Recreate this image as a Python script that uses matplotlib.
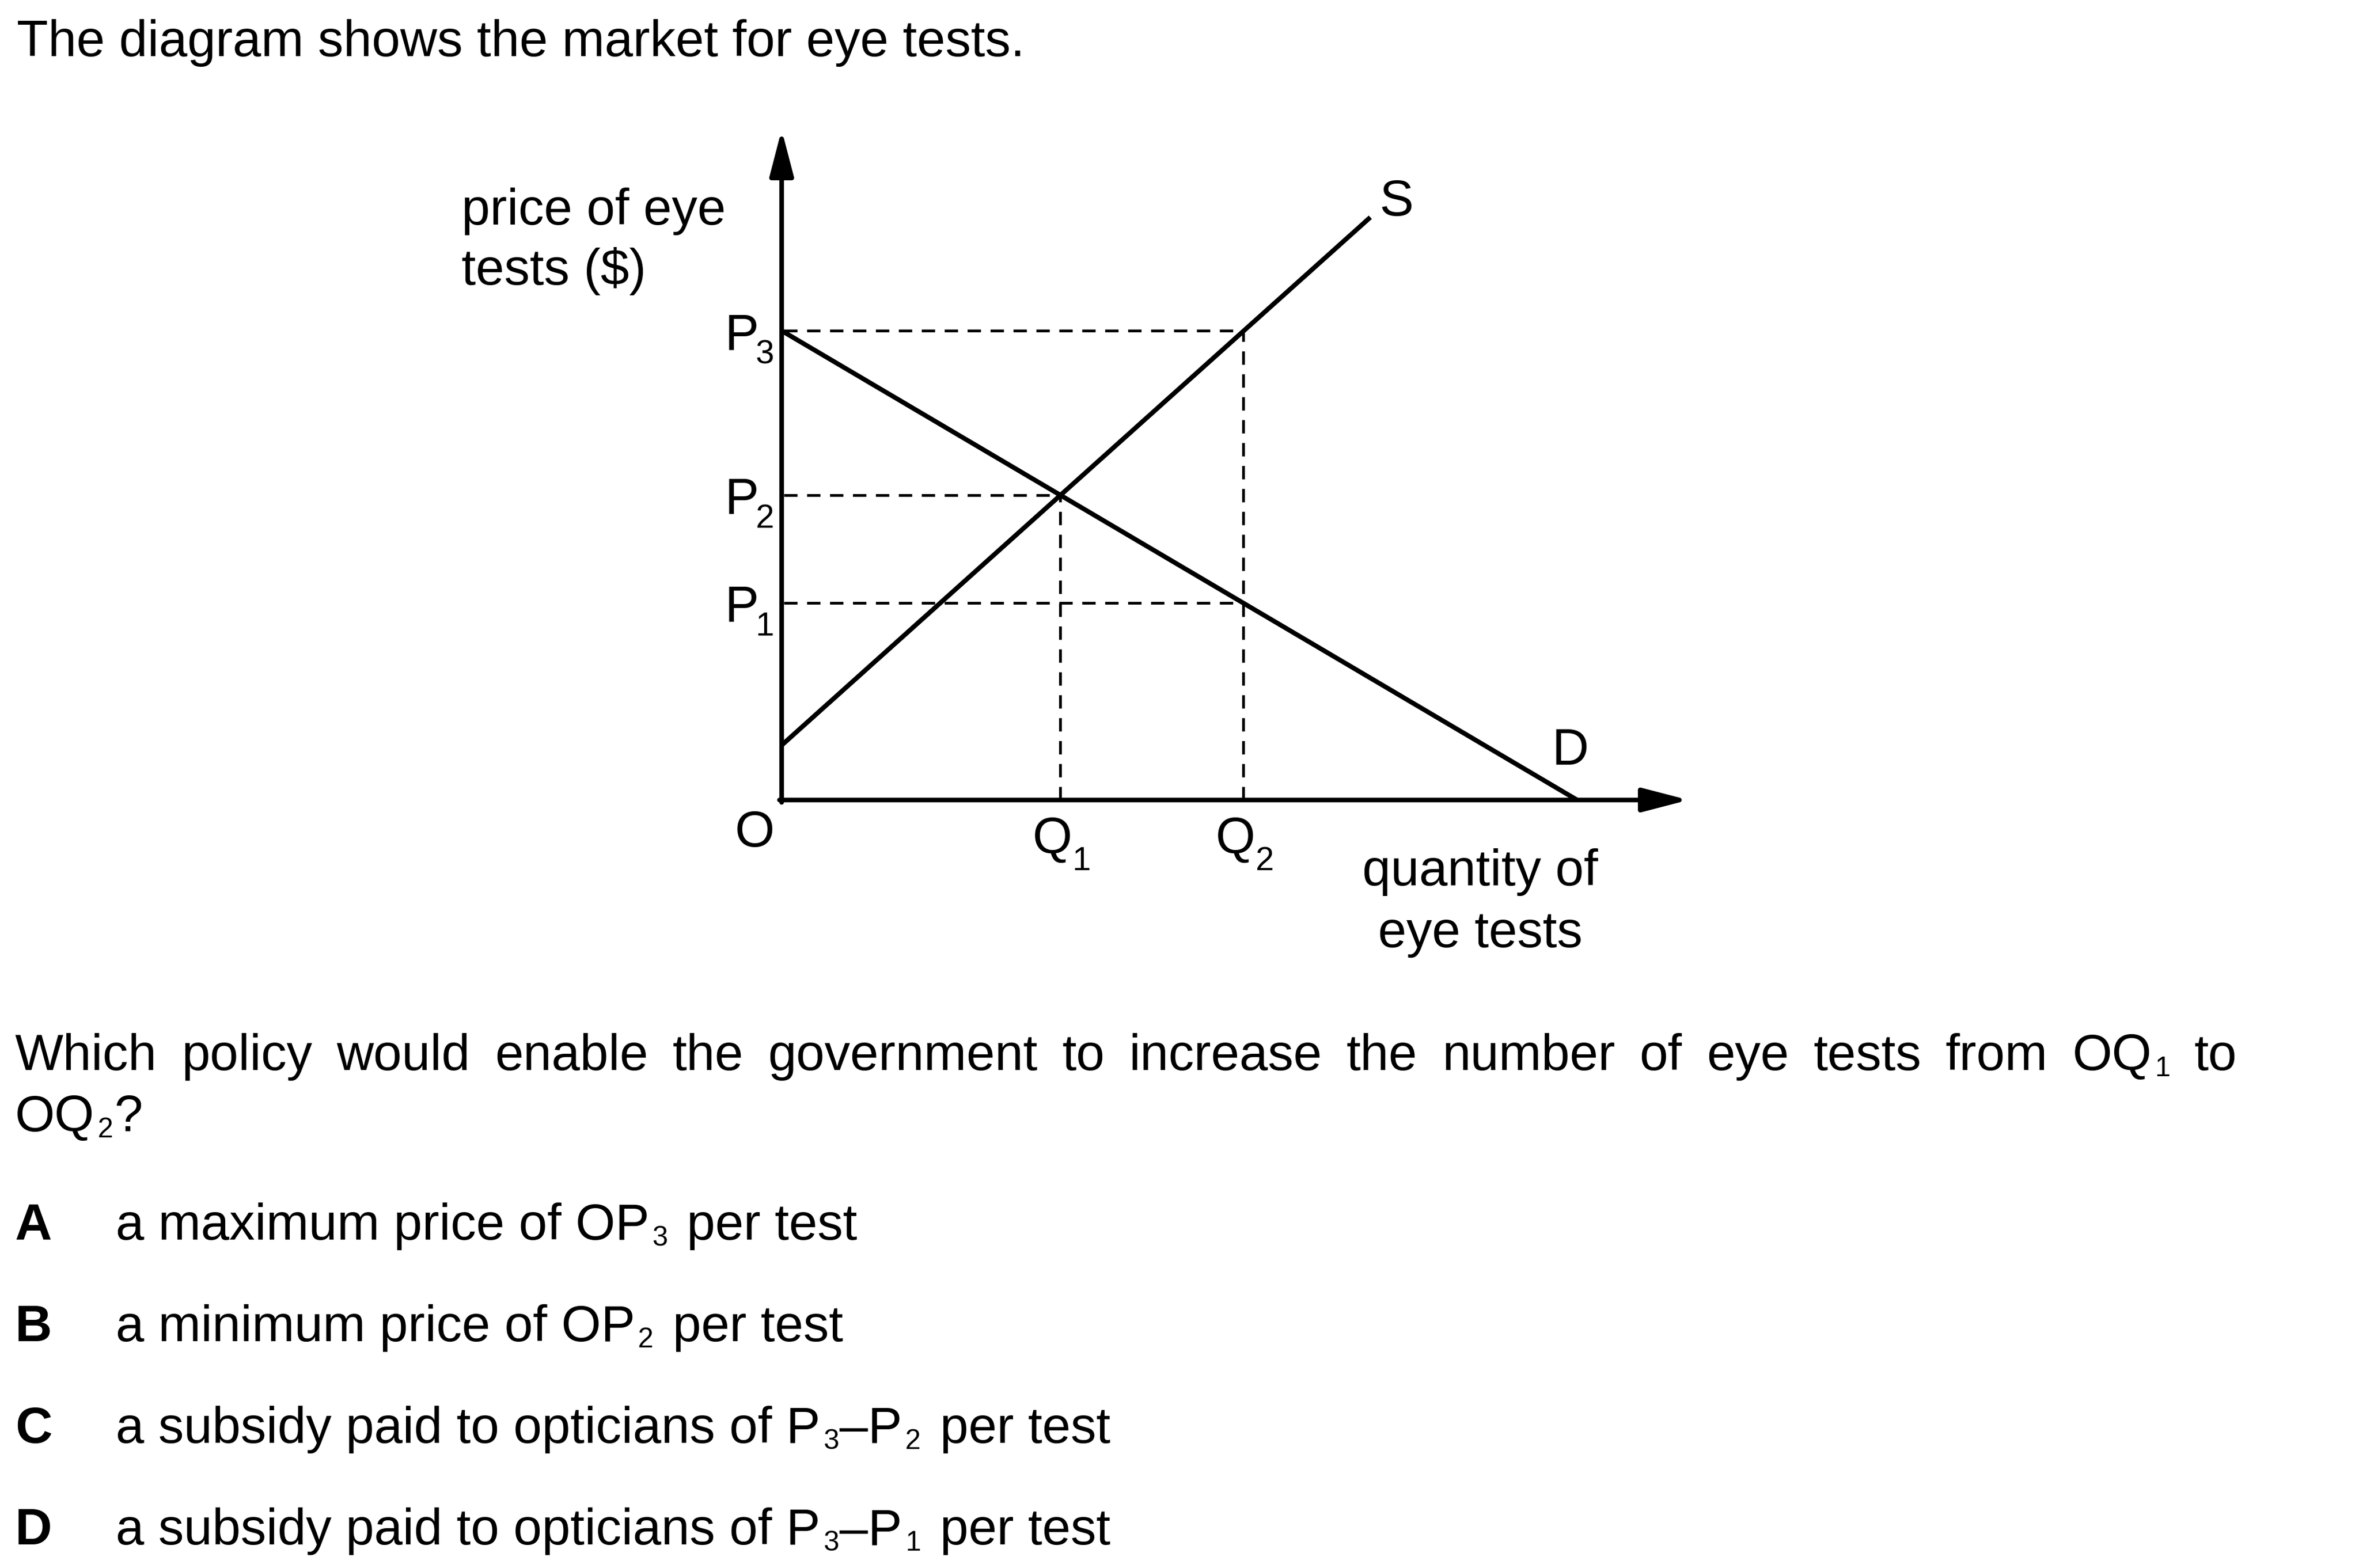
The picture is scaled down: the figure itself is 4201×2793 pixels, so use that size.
import matplotlib
matplotlib.use('Agg')
import matplotlib.pyplot as plt

plt.rcParams['font.family'] = ['Liberation Sans', 'DejaVu Sans']

W, H = 4201, 2793
FS = 65.5      # main text size (pt at dpi 100)
SUB = 42.5     # subscript size on the diagram
TSUB = 36      # subscript size in the question text

# market values (arbitrary units)
q_marks = [3.5, 5.8]            # Q1, Q2
p_marks = [2.52, 3.9, 6.0]      # P1, P2, P3
demand_q = [0.0, 10.0]
demand_p = [6.0, 0.0]
supply_q = [0.0, 7.4]
supply_p = [0.7, 7.45]
x_end = 11.4
y_end = 8.57

title = 'The diagram shows the market for eye tests.'
question_words = ['Which', 'policy', 'would', 'enable', 'the', 'government', 'to',
                  'increase', 'the', 'number', 'of', 'eye', 'tests', 'from',
                  [('OQ', False), ('1', True)], 'to']
options = [
    ('A', [('a maximum price of OP', False), ('3', True), (None, False), ('per test', False)]),
    ('B', [('a minimum price of OP', False), ('2', True), (None, False), ('per test', False)]),
    ('C', [('a subsidy paid to opticians of P', False), ('3', True), ('\u2013P', False), ('2', True),
           (None, False), ('per test', False)]),
    ('D', [('a subsidy paid to opticians of P', False), ('3', True), ('\u2013P', False), ('1', True),
           (None, False), ('per test', False)]),
]

fig = plt.figure(figsize=(W / 100, H / 100), dpi=100)
renderer = fig.canvas.get_renderer()

# chart axes: origin at pixel (1392, 1425)
ox, oy = 1392, 1425
tipx, tipy = 3007, 231
ax = fig.add_axes([ox / W, 1 - oy / H, (tipx - ox) / W, (oy - tipy) / H])
ax.set_xlim(0, x_end)
ax.set_ylim(0, y_end)
ax.axis('off')

arrow = dict(arrowstyle='-|>,head_length=0.5,head_width=0.13', lw=6, color='black',
             shrinkA=0, shrinkB=0, mutation_scale=100)
ax.annotate('', xy=(0, y_end), xytext=(0, -0.03), arrowprops=arrow)
ax.annotate('', xy=(x_end, 0), xytext=(-0.027, 0), arrowprops=arrow)

ax.plot(demand_q, demand_p, color='black', lw=6, solid_capstyle='butt', clip_on=False)
ax.plot(supply_q, supply_p, color='black', lw=6, solid_capstyle='butt', clip_on=False)

dash = (0, (4.9, 3.5))
ax.hlines(p_marks, 0.03, [q_marks[1], q_marks[0], q_marks[1]], colors='black',
          lw=3.5, linestyles=[dash])
ax.vlines(q_marks, 0, [p_marks[1], p_marks[2]], colors='black', lw=3.5, linestyles=[dash])

# axis labels on the chart
for i, p in enumerate(p_marks):
    ax.annotate('P', xy=(0, p), xytext=(-102, -33), textcoords='offset pixels',
                fontsize=FS, ha='left', va='baseline')
    ax.annotate(str(i + 1), xy=(0, p), xytext=(-46, -58), textcoords='offset pixels',
                fontsize=SUB, ha='left', va='baseline')
for i, q in enumerate(q_marks):
    ax.annotate('Q', xy=(q, 0), xytext=(-49, -95), textcoords='offset pixels',
                fontsize=FS, ha='left', va='baseline')
    ax.annotate(str(i + 1), xy=(q, 0), xytext=(22, -125), textcoords='offset pixels',
                fontsize=SUB, ha='left', va='baseline')
ax.annotate('O', xy=(0, 0), xytext=(-83, -83), textcoords='offset pixels',
            fontsize=FS, ha='left', va='baseline')
ax.annotate('S', xy=(supply_q[1], supply_p[1]), xytext=(16, 3), textcoords='offset pixels',
            fontsize=FS, ha='left', va='baseline')
ax.annotate('D', xy=(demand_q[1], 0), xytext=(-45, 63), textcoords='offset pixels',
            fontsize=FS, ha='left', va='baseline')


def put(x, y, s, size=FS, weight='normal', ha='left'):
    return fig.text(x / W, 1 - y / H, s, fontsize=size, fontweight=weight, ha=ha, va='baseline')


def wid(t):
    return t.get_window_extent(renderer).width


def run(x, y, parts):
    for s, sub in parts:
        if s is None:
            x += 32
        elif sub:
            t = put(x + 3, y + 11, s, size=TSUB)
            x += wid(t) + 5
        else:
            t = put(x, y, s)
            x += wid(t) + 2
    return x


put(822, 400, 'price of eye')
put(822, 507, 'tests ($)')
put(2636, 1577, 'quantity of', ha='center')
put(2636, 1687, 'eye tests', ha='center')

put(30, 100, title)

# justified first line of the question
left, right = 27, 3984
pieces = []
total = 0
for w in question_words:
    parts = [(w, False)] if isinstance(w, str) else w
    tmp = [put(0, -500, s, size=TSUB if sub else FS) for s, sub in parts]
    total += sum(wid(t) for t in tmp) + 5 * (len(parts) - 1)
    for t in tmp:
        t.remove()
    pieces.append(parts)
gap = (right - left - total) / (len(pieces) - 1)
x = left
for parts in pieces:
    x = run(x, 1906, parts) + gap - 2

run(27, 2015, [('OQ', False), ('2', True), ('?', False)])

for i, (letter, parts) in enumerate(options):
    y = 2208 + i * 181
    put(27, y, letter, weight='bold')
    run(206, y, parts)

fig.savefig('out.png', dpi=100)
